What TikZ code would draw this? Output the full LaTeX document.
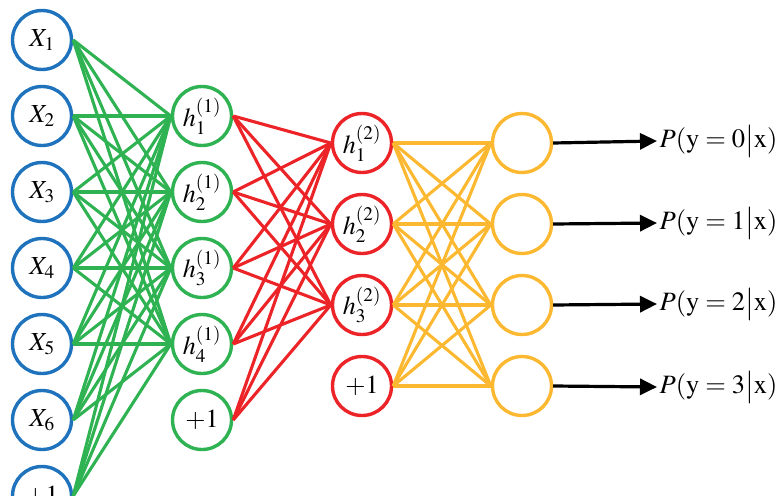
\documentclass[tikz,border=0pt]{standalone}
\usepackage{mathptmx}
\usepackage{fontspec}
\setmainfont{Liberation Serif}
\usetikzlibrary{arrows.meta}
\definecolor{inblue}{RGB}{30,115,188}
\definecolor{hidgreen}{RGB}{46,178,82}
\definecolor{hidred}{RGB}{236,36,40}
\definecolor{outyellow}{RGB}{252,184,48}
\begin{document}
\begin{tikzpicture}[x=1pt, y=-1pt, font=\fontsize{26}{28}\selectfont,
    every node/.style={circle, minimum size=59pt, inner sep=0pt, line width=3.4pt, fill=white},
    unit/.style={draw=#1},
    prob/.style={rectangle, minimum size=0pt, inner sep=1pt, anchor=west, fill=none, font=\fontsize{26.5}{28}\selectfont},
    link/.style={draw=#1, line width=3.1pt}]
    \useasboundingbox (0,0) rectangle (781,495);
    \clip (0,0) rectangle (781,495);
    % input layer
    \node[unit=inblue] (x1) at (42, 40) {$X_{1}$};
    \node[unit=inblue] (x2) at (42, 116) {$X_{2}$};
    \node[unit=inblue] (x3) at (42, 192) {$X_{3}$};
    \node[unit=inblue] (x4) at (42, 268) {$X_{4}$};
    \node[unit=inblue] (x5) at (42, 344) {$X_{5}$};
    \node[unit=inblue] (x6) at (42, 420) {$X_{6}$};
    \node[unit=inblue] (x7) at (42, 496) {$+1$};
    % first hidden layer
    \node[unit=hidgreen] (a1) at (202, 116) {$h^{(1)}_{1}$};
    \node[unit=hidgreen] (a2) at (202, 192) {$h^{(1)}_{2}$};
    \node[unit=hidgreen] (a3) at (202, 268) {$h^{(1)}_{3}$};
    \node[unit=hidgreen] (a4) at (202, 344) {$h^{(1)}_{4}$};
    \node[unit=hidgreen] (a5) at (202, 420) {$+1$};
    % second hidden layer
    \node[unit=hidred] (b1) at (362, 143) {$h^{(2)}_{1}$};
    \node[unit=hidred] (b2) at (362, 224) {$h^{(2)}_{2}$};
    \node[unit=hidred] (b3) at (362, 305) {$h^{(2)}_{3}$};
    \node[unit=hidred] (b4) at (362, 386) {$+1$};
    % output layer
    \node[unit=outyellow] (o1) at (522, 143) {};
    \node[unit=outyellow] (o2) at (522, 224) {};
    \node[unit=outyellow] (o3) at (522, 305) {};
    \node[unit=outyellow] (o4) at (522, 386) {};
    \node[prob] (p1) at (657, 141) {$P(\mathrm{y}=0\big|\mathrm{x})$};
    \node[prob] (p2) at (657, 223) {$P(\mathrm{y}=1\big|\mathrm{x})$};
    \node[prob] (p3) at (657, 304) {$P(\mathrm{y}=2\big|\mathrm{x})$};
    \node[prob] (p4) at (657, 387) {$P(\mathrm{y}=3\big|\mathrm{x})$};
    % connections
    \foreach \i in {1,...,7}
        \foreach \j in {1,...,4}
            \draw[link=hidgreen] (x\i.east) -- (a\j.west);
    \foreach \i in {1,...,5}
        \foreach \j in {1,...,3}
            \draw[link=hidred] (a\i.east) -- (b\j.west);
    \foreach \i in {1,...,4}
        \foreach \j in {1,...,4}
            \draw[link=outyellow] (b\i.east) -- (o\j.west);
    \foreach \j in {1,...,4}
        \draw[line width=3.2pt, -{Triangle[length=17pt, width=16pt]}] (o\j.east) -- (p\j.west);
\end{tikzpicture}
\end{document}
